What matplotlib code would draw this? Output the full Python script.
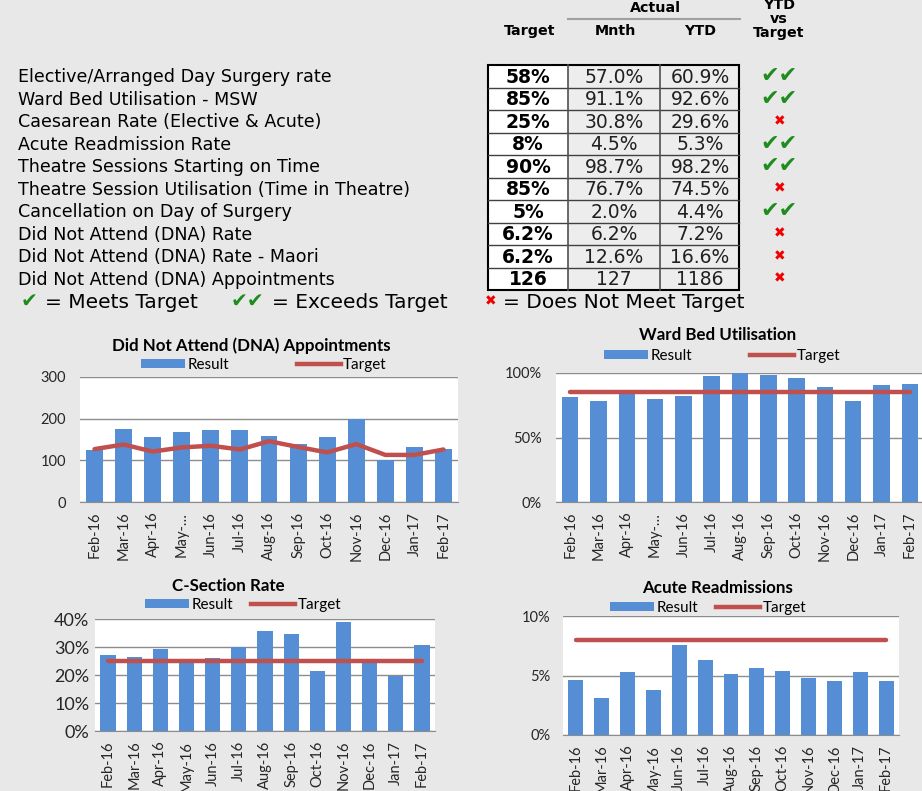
import matplotlib
matplotlib.use("Agg")
import matplotlib.pyplot as plt
from matplotlib.patches import Rectangle, Patch
from matplotlib.lines import Line2D
from matplotlib.ticker import PercentFormatter, MultipleLocator

W, H = 922, 791

# ------------------------------------------------------------------
# Data
# ------------------------------------------------------------------
kpi_names = [
    "Elective/Arranged Day Surgery rate",
    "Ward Bed Utilisation - MSW",
    "Caesarean Rate (Elective & Acute)",
    "Acute Readmission Rate",
    "Theatre Sessions Starting on Time",
    "Theatre Session Utilisation (Time in Theatre)",
    "Cancellation on Day of Surgery",
    "Did Not Attend (DNA) Rate",
    "Did Not Attend (DNA) Rate - Maori",
    "Did Not Attend (DNA) Appointments",
]
kpi_target = ["58%", "85%", "25%", "8%", "90%", "85%", "5%", "6.2%", "6.2%", "126"]
kpi_month = ["57.0%", "91.1%", "30.8%", "4.5%", "98.7%", "76.7%", "2.0%", "6.2%", "12.6%", "127"]
kpi_ytd = ["60.9%", "92.6%", "29.6%", "5.3%", "98.2%", "74.5%", "4.4%", "7.2%", "16.6%", "1186"]
kpi_status = ["exceeds", "exceeds", "miss", "exceeds", "exceeds", "miss",
              "exceeds", "miss", "miss", "miss"]

months = ["Feb-16", "Mar-16", "Apr-16", "May-16", "Jun-16", "Jul-16", "Aug-16",
          "Sep-16", "Oct-16", "Nov-16", "Dec-16", "Jan-17", "Feb-17"]
months_short = ["Feb-16", "Mar-16", "Apr-16", "May-\u2026", "Jun-16", "Jul-16", "Aug-16",
                "Sep-16", "Oct-16", "Nov-16", "Dec-16", "Jan-17", "Feb-17"]

dna_result = [126, 175, 157, 168, 172, 172, 159, 140, 155, 200, 100, 131, 127]
dna_target = [127, 138, 121, 131, 135, 126, 146, 132, 119, 139, 113, 113, 126]

ward_result = [81.3, 78.4, 84.0, 79.7, 82.3, 97.7, 100.0, 98.2, 96.4, 89.1, 78.2, 90.9, 91.1]
ward_target = [85, 85, 85, 85, 85, 85, 85, 85, 85, 85, 85, 85, 85]

csec_result = [27.3, 26.3, 29.3, 25.5, 25.9, 30.0, 35.7, 34.7, 21.4, 39.0, 25.6, 19.5, 30.8]
csec_target = [25, 25, 25, 25, 25, 25, 25, 25, 25, 25, 25, 25, 25]

readm_result = [4.6, 3.1, 5.3, 3.8, 7.6, 6.3, 5.1, 5.6, 5.4, 4.75, 4.5, 5.3, 4.5]
readm_target = [8, 8, 8, 8, 8, 8, 8, 8, 8, 8, 8, 8, 8]

# ------------------------------------------------------------------
# Style
# ------------------------------------------------------------------
BG = '#E8E8E8'
BAR = '#558ED5'
LINE = '#C0504D'
GRID = '#8C8C8C'
GREEN = '#1E8C1E'
RED = '#F00000'
CHART_FONT = 'Lato'

fig = plt.figure(figsize=(W / 100, H / 100), dpi=100, facecolor=BG)

# full-figure axes in pixel units for the KPI table
bg = fig.add_axes([0, 0, 1, 1])
bg.set_xlim(0, W)
bg.set_ylim(H, 0)
bg.axis('off')
bg.set_zorder(0)

# --- table header ---
hdr = dict(ha='center', va='center', fontweight='bold', fontsize=10.3)
bg.text(655, 8, "Actual", **hdr)
bg.plot([568, 740], [19, 19], color='#A0A0A0', lw=1.5)
bg.text(530, 31, "Target", **hdr)
bg.text(615, 31, "Mnth", **hdr)
bg.text(700, 31, "YTD", **hdr)
bg.text(779, 19, "YTD\nvs\nTarget", linespacing=1.02, **hdr)

# --- table body ---
ROW_TOP, ROW_H = 65, 22.5
COLS = [488, 568, 660, 739]
n = len(kpi_names)
bg.add_patch(Rectangle((COLS[0], ROW_TOP), COLS[1] - COLS[0], n * ROW_H,
                       fc='white', ec='none'))
bg.add_patch(Rectangle((COLS[1], ROW_TOP), COLS[3] - COLS[1], n * ROW_H,
                       fc='#EDEDED', ec='none'))
for i in range(1, n):
    y = ROW_TOP + i * ROW_H
    bg.plot([COLS[0], COLS[3]], [y, y], color='#404040', lw=1)
for x in COLS[1:3]:
    bg.plot([x, x], [ROW_TOP, ROW_TOP + n * ROW_H], color='#505050', lw=1.2)
bg.add_patch(Rectangle((COLS[0], ROW_TOP), COLS[3] - COLS[0], n * ROW_H,
                       fc='none', ec='black', lw=1.5))

for i in range(n):
    yc = ROW_TOP + (i + 0.5) * ROW_H
    bg.text(18, yc + 1, kpi_names[i], ha='left', va='center', fontsize=12.6)
    bg.text(528, yc + 1, kpi_target[i], ha='center', va='center',
            fontsize=13.5, fontweight='bold')
    bg.text(614, yc + 1, kpi_month[i], ha='center', va='center', fontsize=13.5,
            color='#202020')
    bg.text(700, yc + 1, kpi_ytd[i], ha='center', va='center', fontsize=13.5,
            color='#202020')
    if kpi_status[i] == 'exceeds':
        bg.text(779, yc, "\u2714\u2714", ha='center', va='center', fontsize=16,
                color=GREEN)
    else:
        bg.text(780, yc, "\u2716", ha='center', va='center', fontsize=10, color=RED)

# --- key under the table ---
bg.text(21, 301, "\u2714", ha='left', va='center', fontsize=14.5, color=GREEN)
bg.text(45, 302, "= Meets Target", ha='left', va='center', fontsize=14.5)
bg.text(231, 301, "\u2714\u2714", ha='left', va='center', fontsize=14.5, color=GREEN)
bg.text(272, 302, "= Exceeds Target", ha='left', va='center', fontsize=14.5)
bg.text(485, 301, "\u2716", ha='left', va='center', fontsize=10, color=RED)
bg.text(503, 302, "= Does Not Meet Target", ha='left', va='center', fontsize=14.5)


# ------------------------------------------------------------------
# Charts
# ------------------------------------------------------------------
def px_axes(left, top, right, bottom):
    return fig.add_axes([left / W, 1 - bottom / H, (right - left) / W, (bottom - top) / H])


def chart(box, result, target, labels, ylim, ystep, pct, title, title_xy,
          legend_xy, colspace, ypad, ysize=10.5):
    ax = px_axes(*box)
    ax.set_facecolor('white')
    x = range(len(result))
    ax.bar(x, result, width=0.58, color=BAR, zorder=2)
    ax.plot(x, target, color=LINE, lw=3.2, solid_capstyle='round', zorder=3)
    ax.set_xlim(-0.5, len(result) - 0.5)
    ax.set_ylim(*ylim)
    ax.yaxis.set_major_locator(MultipleLocator(ystep))
    if pct:
        ax.yaxis.set_major_formatter(PercentFormatter(100, decimals=0))
    ax.grid(axis='y', color=GRID, lw=1)
    ax.set_axisbelow(True)
    for s in ['left', 'right', 'top']:
        ax.spines[s].set_visible(False)
    ax.spines['bottom'].set_color(GRID)
    ax.set_xticks(list(x))
    ax.set_xticklabels(labels, rotation=90)
    ax.tick_params(axis='both', length=0, labelsize=10.5, labelcolor='#262626',
                   labelfontfamily=CHART_FONT)
    ax.tick_params(axis='x', pad=7)
    ax.tick_params(axis='y', pad=ypad, labelsize=ysize)
    fig.text(title_xy[0] / W, 1 - title_xy[1] / H, title, ha='center', va='center',
             fontsize=12.2, fontweight='bold', family=CHART_FONT)
    handles = [Patch(fc=BAR, ec='none'), Line2D([], [], color=LINE, lw=3.2)]
    ax.legend(handles, ["Result", "Target"], loc='center', ncol=2, frameon=False,
              bbox_to_anchor=(legend_xy[0] / W, 1 - legend_xy[1] / H),
              bbox_transform=fig.transFigure, handlelength=2.9, handleheight=0.6,
              handletextpad=0.15, columnspacing=colspace,
              prop={'family': CHART_FONT, 'size': 11})
    return ax


chart((80, 377, 458, 502), dna_result, dna_target, months_short, (0, 300), 100, False,
      "Did Not Attend (DNA) Appointments", (251, 346), (264, 365), 4.4, 10)
chart((556, 373, 924, 502), ward_result, ward_target, months_short, (0, 100), 50, True,
      "Ward Bed Utilisation", (718, 335), (722, 356), 3.8, 10)
chart((95, 619, 435, 731), csec_result, csec_target, months, (0, 40), 10, True,
      "C-Section Rate", (228, 586), (243, 605), 1.2, 4, ysize=13)
chart((563, 616, 899, 735), readm_result, readm_target, months, (0, 10), 5, True,
      "Acute Readmissions", (718, 588), (708, 608), 1.2, 9)

fig.savefig("out.png", dpi=100, facecolor=BG)
